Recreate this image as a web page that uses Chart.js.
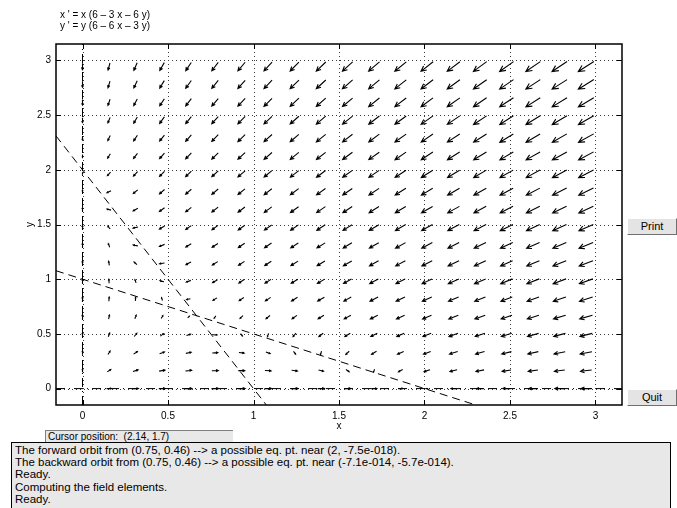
<!DOCTYPE html>
<html><head><meta charset="utf-8">
<script src="https://cdn.jsdelivr.net/npm/chart.js@4/dist/chart.umd.min.js"></script>
<style>
html,body{margin:0;padding:0;background:#fff;width:677px;height:508px;overflow:hidden;font-family:"Liberation Sans",Arial,sans-serif;}
#wrap{position:absolute;left:0;top:0;width:677px;height:508px;}
.eq{position:absolute;left:60px;font-size:10px;color:#000;line-height:10px;white-space:pre;}
.btn{position:absolute;left:627px;width:50px;height:17px;background:#e4e4e4;border-top:1px solid #fff;border-left:1px solid #fff;border-right:1px solid #707070;border-bottom:1px solid #707070;box-sizing:border-box;font-size:11px;text-align:center;line-height:15px;color:#000;}
#cursor{position:absolute;left:45px;top:430px;width:188px;height:12px;background:#e8e8e8;border-left:1px solid #808080;border-top:1px solid #808080;box-sizing:border-box;font-size:10px;line-height:11px;padding-left:2px;white-space:pre;}
#msg{position:absolute;left:11px;top:442px;width:660px;height:80px;background:#e8e8e8;border:1px solid #000;box-sizing:border-box;font-size:11.5px;line-height:12.2px;padding-left:3px;padding-top:1px;white-space:pre;}
</style></head>
<body>
<div id="wrap"><canvas id="c"></canvas></div>
<div class="eq" style="top:10px">x ' = x (6 – 3 x – 6 y)</div>
<div class="eq" style="top:21px">y ' = y (6 – 6 x – 3 y)</div>
<div class="btn" style="top:218px">Print</div>
<div class="btn" style="top:389px">Quit</div>
<div id="cursor">Cursor position:  (2.14, 1.7)</div>
<div id="msg"></div>
<script>
// ---- data ----
const xTicks = [0, 0.5, 1, 1.5, 2, 2.5, 3];
const yTicks = [0, 0.5, 1, 1.5, 2, 2.5, 3];
const xRange = [-0.155, 3.155];
const yRange = [-0.15, 3.15];
// equation shown in the figure: x' = x(6 - 3x - 6y), y' = y(6 - 6x - 3y)
const xCoef = [6, -3, -6];
const yCoef = [6, -6, -3];
// field sample points (arrow centres)
const xGrid = [0, 0.155, 0.31, 0.465, 0.62, 0.775, 0.93, 1.085, 1.24, 1.395, 1.55, 1.705, 1.86, 2.015, 2.17, 2.325, 2.48, 2.635, 2.79, 2.945];
const yGrid = [0, 0.164, 0.327, 0.491, 0.654, 0.818, 0.981, 1.145, 1.309, 1.472, 1.636, 1.8, 1.963, 2.127, 2.29, 2.454, 2.617, 2.781, 2.944];
// nullclines (end points)
const nullX1 = [{x: 0, y: -0.15}, {x: 0, y: 3.15}];
const nullX2 = [{x: -0.155, y: 1.0775}, {x: 2.3, y: -0.15}];
const nullY1 = [{x: -0.155, y: 0}, {x: 3.155, y: 0}];
const nullY2 = [{x: -0.155, y: 2.31}, {x: 1.075, y: -0.15}];
const messages = [
  "The forward orbit from (0.75, 0.46) --> a possible eq. pt. near (2, -7.5e-018).",
  "The backward orbit from (0.75, 0.46) --> a possible eq. pt. near (-7.1e-014, -5.7e-014).",
  "Ready.",
  "Computing the field elements.",
  "Ready."
];
document.getElementById('msg').textContent = messages.join('\n');

const arrowScale = 0.0293;

const fieldPlugin = {
  id: 'field',
  beforeDatasetsDraw(chart) {
    const {ctx, chartArea: a, scales: {x, y}} = chart;
    ctx.save();
    ctx.strokeStyle = '#3a3a3a';
    ctx.lineWidth = 1;
    ctx.setLineDash([1, 3]);
    xTicks.forEach(v => {
      const px = Math.round(x.getPixelForValue(v)) + 0.5;
      ctx.beginPath(); ctx.moveTo(px, a.top); ctx.lineTo(px, a.bottom); ctx.stroke();
    });
    yTicks.forEach(v => {
      const py = Math.round(y.getPixelForValue(v)) + 0.5;
      ctx.beginPath(); ctx.moveTo(a.left, py); ctx.lineTo(a.right, py); ctx.stroke();
    });
    ctx.restore();
  },
  afterDatasetsDraw(chart) {
    const {ctx, chartArea: a, scales: {x, y}} = chart;
    ctx.save();
    ctx.strokeStyle = '#000';
    ctx.lineWidth = 1.1;
    ctx.lineCap = 'butt';
    xGrid.forEach(gx => {
      yGrid.forEach(gy => {
        const u = gx * (xCoef[0] + xCoef[1] * gx + xCoef[2] * gy);
        const v = gy * (yCoef[0] + yCoef[1] * gx + yCoef[2] * gy);
        const L = Math.hypot(u, v);
        if (L < 1e-9) return;
        const len = arrowScale * Math.cbrt(L);
        const du = u / L * len / 2, dv = v / L * len / 2;
        const x0 = x.getPixelForValue(gx - du), y0 = y.getPixelForValue(gy - dv);
        const x1 = x.getPixelForValue(gx + du), y1 = y.getPixelForValue(gy + dv);
        const ang = Math.atan2(y1 - y0, x1 - x0);
        const pl = Math.hypot(x1 - x0, y1 - y0);
        const h = pl * 0.38;
        ctx.beginPath();
        ctx.moveTo(x0, y0); ctx.lineTo(x1, y1);
        ctx.moveTo(x1 - h * Math.cos(ang - 0.45), y1 - h * Math.sin(ang - 0.45));
        ctx.lineTo(x1, y1);
        ctx.lineTo(x1 - h * Math.cos(ang + 0.45), y1 - h * Math.sin(ang + 0.45));
        ctx.stroke();
      });
    });
    // box and inward ticks
    ctx.lineWidth = 1.5;
    ctx.strokeRect(a.left, a.top, a.right - a.left, a.bottom - a.top);
    ctx.lineWidth = 1;
    const tl = 5;
    ctx.beginPath();
    xTicks.forEach(v => {
      const px = Math.round(x.getPixelForValue(v)) + 0.5;
      ctx.moveTo(px, a.bottom); ctx.lineTo(px, a.bottom - tl);
      ctx.moveTo(px, a.top); ctx.lineTo(px, a.top + tl);
    });
    yTicks.forEach(v => {
      const py = Math.round(y.getPixelForValue(v)) + 0.5;
      ctx.moveTo(a.left, py); ctx.lineTo(a.left + tl, py);
      ctx.moveTo(a.right, py); ctx.lineTo(a.right - tl, py);
    });
    ctx.stroke();
    ctx.restore();
  }
};

const lineDs = (data, dash) => ({
  data, showLine: true, borderColor: '#000', borderWidth: 1, borderDash: dash,
  pointRadius: 0, fill: false, tension: 0
});

new Chart(document.getElementById('c'), {
  type: 'scatter',
  data: {
    datasets: [
      lineDs(nullX1, [9, 4, 1, 4]),
      lineDs(nullY1, [9, 4, 1, 4]),
      lineDs(nullX2, [8, 5]),
      lineDs(nullY2, [8, 5])
    ]
  },
  options: {
    responsive: true, maintainAspectRatio: false, animation: false,
    layout: {padding: {left: 20, top: 44, right: 55, bottom: 73}},
    plugins: {legend: {display: false}, tooltip: {enabled: false}},
    scales: {
      x: {
        type: 'linear', min: xRange[0], max: xRange[1],
        afterBuildTicks: s => { s.ticks = xTicks.map(v => ({value: v})); },
        afterFit: s => { s.height = 30; },
        grid: {display: false, drawTicks: false}, border: {display: false},
        ticks: {color: '#000', font: {family: 'Liberation Sans', size: 10}, padding: 5, maxRotation: 0,
                callback: v => String(v)},
        title: {display: true, text: 'x', color: '#000', font: {family: 'Liberation Sans', size: 10}, padding: {top: 0, bottom: 3}}
      },
      y: {
        type: 'linear', min: yRange[0], max: yRange[1],
        afterBuildTicks: s => { s.ticks = yTicks.map(v => ({value: v})); },
        afterFit: s => { s.width = 36; },
        grid: {display: false, drawTicks: false}, border: {display: false},
        ticks: {color: '#000', font: {family: 'Liberation Sans', size: 10}, padding: 5,
                callback: v => String(v)},
        title: {display: true, text: 'y', color: '#000', font: {family: 'Liberation Sans', size: 10}, padding: {top: 4, bottom: 0}}
      }
    }
  },
  plugins: [fieldPlugin]
});
</script>
</body></html>
